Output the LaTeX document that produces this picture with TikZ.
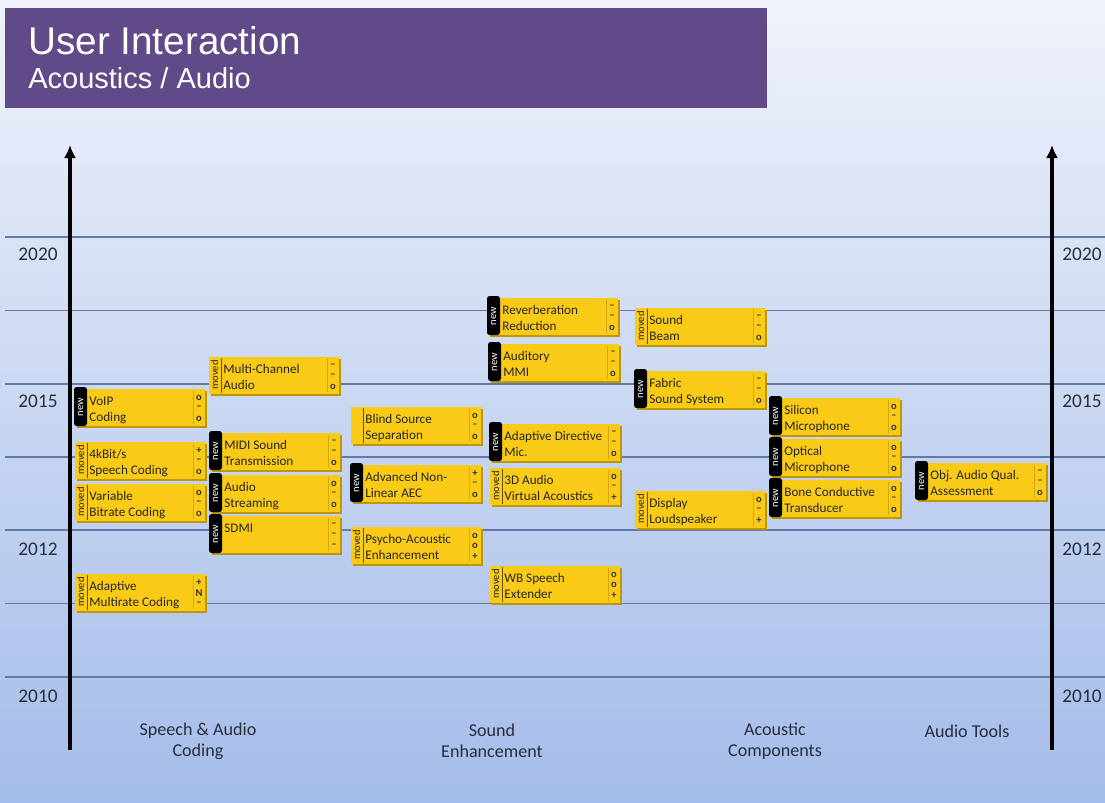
\documentclass[tikz,border=0pt]{standalone}
\usepackage{fontspec}
\setmainfont{Carlito}
\newfontfamily\titlefont{Liberation Sans}
\usetikzlibrary{arrows.meta}

\definecolor{bgtop}{RGB}{240,243,251}
\definecolor{bgbottom}{RGB}{164,188,233}
\definecolor{gridblue}{RGB}{98,122,165}
\definecolor{banner}{RGB}{96,74,135}
\definecolor{boxyellow}{RGB}{249,203,22}
\definecolor{boxshadow}{RGB}{190,150,10}
\definecolor{rankline}{RGB}{215,165,15}
\definecolor{labelgray}{RGB}{40,45,60}

\tikzset{
  gridline/.style={draw=gridblue, line width=0.8pt},
  timeaxis/.style={line width=2.4pt, -{Latex[length=7.5pt,width=7pt]}},
  yearlabel/.style={font=\fontsize{11}{13}\selectfont, text=labelgray, inner sep=0},
  catlabel/.style={align=center, font=\fontsize{10.3}{12}\selectfont, text=labelgray, inner sep=0},
  boxbody/.style={fill=boxyellow, minimum width=2.6cm, minimum height=0.74cm, inner sep=0, anchor=north west},
  boxline/.style={anchor=base west, inner sep=0, font=\fontsize{7.5}{9}\selectfont, text=black!85},
  rank/.style={font=\bfseries\fontsize{6}{6}\selectfont, inner sep=0, text=black!80},
  newtext/.style={rotate=90, text=white, font=\fontsize{6}{6}\selectfont, inner sep=0},
  movedtext/.style={rotate=90, text=black!85, font=\fontsize{6}{6}\selectfont, inner sep=0},
  stripline/.style={draw=black!60!boxyellow, line width=0.5pt}
}

% tag strips on the left of a box: name, x, y
\newcommand{\tagnew}[3]{%
  \fill[black, rounded corners=1.5pt] (#2-1,#3+37) -- (#2-1,#3-2) -- (#2+12,#3-2) -- (#2+12,#3+37) -- cycle;
  \node[newtext] (#1-tag) at (#2+5.5,#3+18) {new};}
\newcommand{\tagmoved}[3]{%
  \draw[stripline] (#2+12,#3+1) -- (#2+12,#3+36);
  \node[movedtext] (#1-tag) at (#2+5.5,#3+18) {moved};}
\newcommand{\tagnone}[3]{%
  \draw[stripline] (#2+12,#3+1) -- (#2+12,#3+36);}

% one roadmap box: name, x, y, tag, line 1, line 2, three ratings
\newcommand{\techbox}[9]{%
  \fill[boxshadow] (#2+1.5,#3+1.5) rectangle (#2+131.5,#3+38.5);
  \node[boxbody] (#1) at (#2,#3) {};
  \csname tag#4\endcsname{#1}{#2}{#3}%
  \draw[rankline] (#2+118,#3+2) -- (#2+118,#3+35);
  \node[boxline] (#1-a) at (#2+14,#3+16) {#5};
  \node[boxline] (#1-b) at (#2+14,#3+32) {#6};
  \node[rank] (#1-r1) at (#2+124,#3+8.5) {#7};
  \node[rank] (#1-r2) at (#2+124,#3+19) {#8};
  \node[rank] (#1-r3) at (#2+124,#3+30) {#9};}

\begin{document}
\begin{tikzpicture}[x=0.02cm, y=-0.02cm]
	\useasboundingbox (0,0) rectangle (1105,802);
	\shade[top color=bgtop, bottom color=bgbottom] (0,0) rectangle (1105,802);
	\fill[banner] (5,8) rectangle (767,108);
	\node[anchor=base west, inner sep=0, text=white, font=\titlefont\fontsize{22}{24}\selectfont] (title) at (28,54) {User Interaction};
	\node[anchor=base west, inner sep=0, text=white, font=\titlefont\fontsize{16.5}{18}\selectfont] (subtitle) at (28,88) {Acoustics / Audio};
	
	% year lines
	\foreach \y in {237,310.5,384,457,530,603.5,677}
		\draw[gridline] (5,\y) -- (1105,\y);
	\foreach \yr/\y in {2020/254, 2015/401, 2012/549, 2010/696} {
		\node[yearlabel] (left-\yr) at (38,\y) {\yr};
		\node[yearlabel] (right-\yr) at (1082,\y) {\yr};
	}
	
	% time axes
	\coordinate (lbot) at (70,750);
	\coordinate (ltop) at (70,145);
	\coordinate (rbot) at (1052,750);
	\coordinate (rtop) at (1052,145);
	\draw[timeaxis] (lbot) -- (ltop);
	\draw[timeaxis] (rbot) -- (rtop);
	
	% Speech & Audio Coding
	\techbox{voip}{75}{389}{new}{VoIP}{Coding}{o}{--}{o}
	\techbox{fourk}{75}{442}{moved}{4kBit/s}{Speech Coding}{+}{--}{o}
	\techbox{varbit}{75}{484}{moved}{Variable}{Bitrate Coding}{o}{--}{o}
	\techbox{amr}{75}{574}{moved}{Adaptive}{Multirate Coding}{+}{N}{--}
	\techbox{multich}{209}{357}{moved}{Multi-Channel}{Audio}{--}{--}{o}
	\techbox{midi}{210}{433}{new}{MIDI Sound}{Transmission}{--}{--}{o}
	\techbox{stream}{210}{475}{new}{Audio}{Streaming}{o}{--}{o}
	\techbox{sdmi}{210}{516}{new}{SDMI}{}{--}{--}{--}
	
	% Sound Enhancement
	\techbox{bss}{351}{407}{none}{Blind Source}{Separation}{o}{--}{o}
	\techbox{aec}{351}{465}{new}{Advanced Non-}{Linear AEC}{+}{--}{o}
	\techbox{psycho}{351}{527}{moved}{Psycho-Acoustic}{Enhancement}{o}{o}{+}
	\techbox{reverb}{488}{298}{new}{Reverberation}{Reduction}{--}{--}{o}
	\techbox{mmi}{489}{344}{new}{Auditory}{MMI}{--}{--}{o}
	\techbox{admic}{490}{424}{new}{Adaptive Directive}{Mic.}{--}{--}{o}
	\techbox{threed}{490}{468}{moved}{3D Audio}{Virtual Acoustics}{o}{--}{+}
	\techbox{wbext}{490}{566}{moved}{WB Speech}{Extender}{o}{o}{+}
	
	% Acoustic Components
	\techbox{beam}{635}{308}{moved}{Sound}{Beam}{--}{--}{o}
	\techbox{fabric}{635}{371}{new}{Fabric}{Sound System}{--}{--}{o}
	\techbox{display}{635}{491}{moved}{Display}{Loudspeaker}{o}{--}{+}
	\techbox{silicon}{770}{398}{new}{Silicon}{Microphone}{o}{--}{o}
	\techbox{optical}{770}{439}{new}{Optical}{Microphone}{o}{--}{o}
	\techbox{bone}{770}{480}{new}{Bone Conductive}{Transducer}{o}{--}{o}
	
	% Audio Tools
	\techbox{objaq}{916}{463}{new}{Obj. Audio Qual.}{Assessment}{--}{--}{o}
	
	% categories
	\node[catlabel] (cat-coding) at (198,741) {Speech \& Audio\\Coding};
	\node[catlabel] (cat-enh) at (492,741) {Sound\\Enhancement};
	\node[catlabel] (cat-comp) at (775,741) {Acoustic\\Components};
	\node[catlabel] (cat-tools) at (967,731) {Audio Tools};
	
\end{tikzpicture}
\end{document}
